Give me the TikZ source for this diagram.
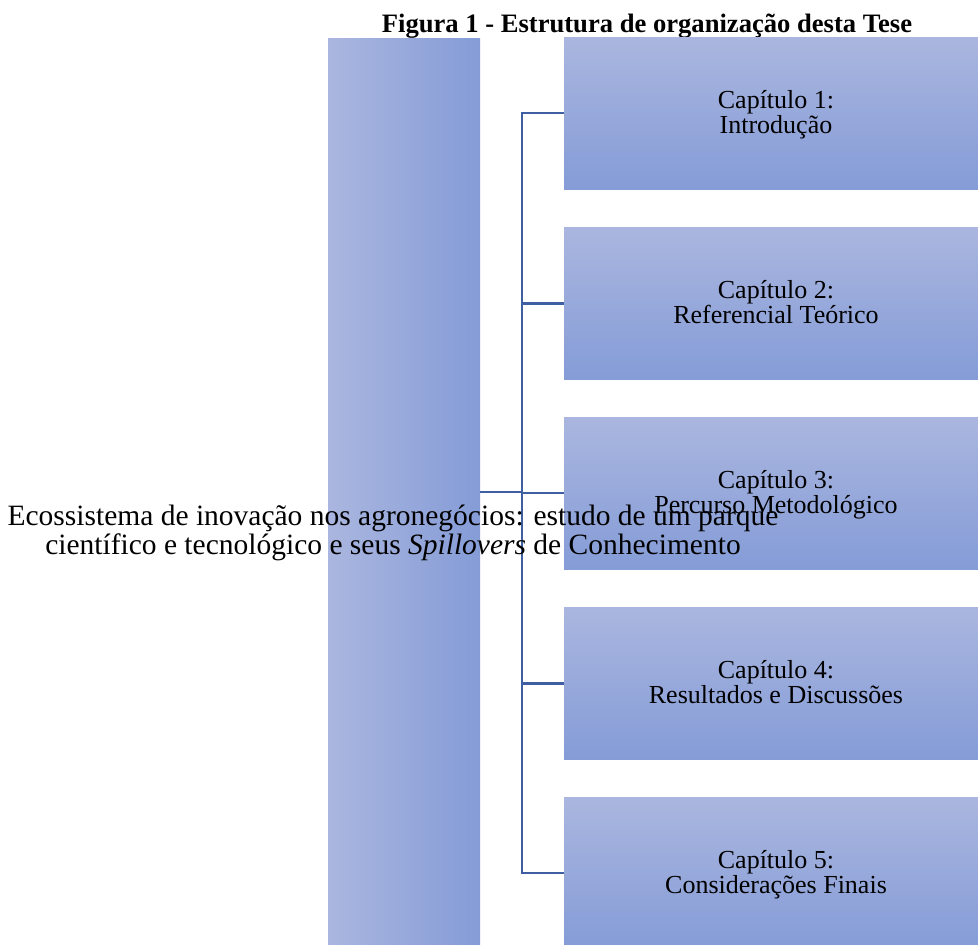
\documentclass[tikz,border=0pt]{standalone}
\usepackage{fontspec}
\setmainfont{Liberation Serif}
\newcommand{\topline}[1]{\rule{0pt}{#1}}
\newcommand{\botline}[1]{\rule[-#1]{0pt}{#1}}
\begin{document}
\begin{tikzpicture}[x=1pt,y=-1pt,
  mainbox/.style={rectangle, inner sep=0pt, minimum width=152pt, minimum height=907pt,
    left color=boxlight, right color=boxdark, draw=none},
  chapbox/.style={rectangle, inner sep=0pt, minimum width=424pt, minimum height=152pt,
    top color=boxlight, bottom color=boxdark, draw=none},
  chaptext/.style={align=center, inner sep=0pt, font=\fontsize{26}{25}\selectfont},
  conn/.style={draw=linkblue, line width=2.7pt},
  maintext/.style={align=center, inner sep=0pt, font=\fontsize{29.5}{29}\selectfont},
  titletext/.style={inner sep=0pt, anchor=base, font=\fontsize{26.6}{28}\selectfont\bfseries}]
\definecolor{boxlight}{RGB}{170,182,223}
\definecolor{boxdark}{RGB}{133,156,215}
\definecolor{linkblue}{RGB}{62,96,163}
\useasboundingbox (0,0) rectangle (978,945);
\fill[white] (0,0) rectangle (978,945);
\node[titletext] (title) at (647,32) {Figura 1 - Estrutura de organização desta Tese};
\node[mainbox] (main) at (404,491.5) {};
\coordinate (spine) at (522,492);
\node[chapbox] (c1) at (776,113) {};
\node[chapbox] (c2) at (776,303.5) {};
\node[chapbox] (c3) at (776,493) {};
\node[chapbox] (c4) at (776,683.5) {};
\node[chapbox] (c5) at (776,873) {};
\draw[conn] (main.east |- spine) -- (spine);
\foreach \n in {c1,c2,c3,c4,c5}{
  \draw[conn] (spine) |- (\n.west);
}
\node[chaptext] (t1) at ([yshift=-1pt]c1) {\topline{20pt}Capítulo 1:\\Introdução\botline{7pt}};
\node[chaptext] (t2) at ([yshift=-1pt]c2) {\topline{20pt}Capítulo 2:\\Referencial Teórico\botline{7pt}};
\node[chaptext] (t3) at ([yshift=-1pt]c3) {\topline{20pt}Capítulo 3:\\Percurso Metodológico\botline{7pt}};
\node[chaptext] (t4) at ([yshift=-1pt]c4) {\topline{20pt}Capítulo 4:\\Resultados e Discussões\botline{7pt}};
\node[chaptext] (t5) at ([yshift=-1pt]c5) {\topline{20pt}Capítulo 5:\\Considerações Finais\botline{7pt}};
\node[maintext] (mainlabel) at (393,532) {\topline{22pt}Ecossistema de inovação nos agronegócios: estudo de um parque\\científico e tecnológico e seus \textit{Spillovers} de Conhecimento\botline{7pt}};
\end{tikzpicture}
\end{document}
